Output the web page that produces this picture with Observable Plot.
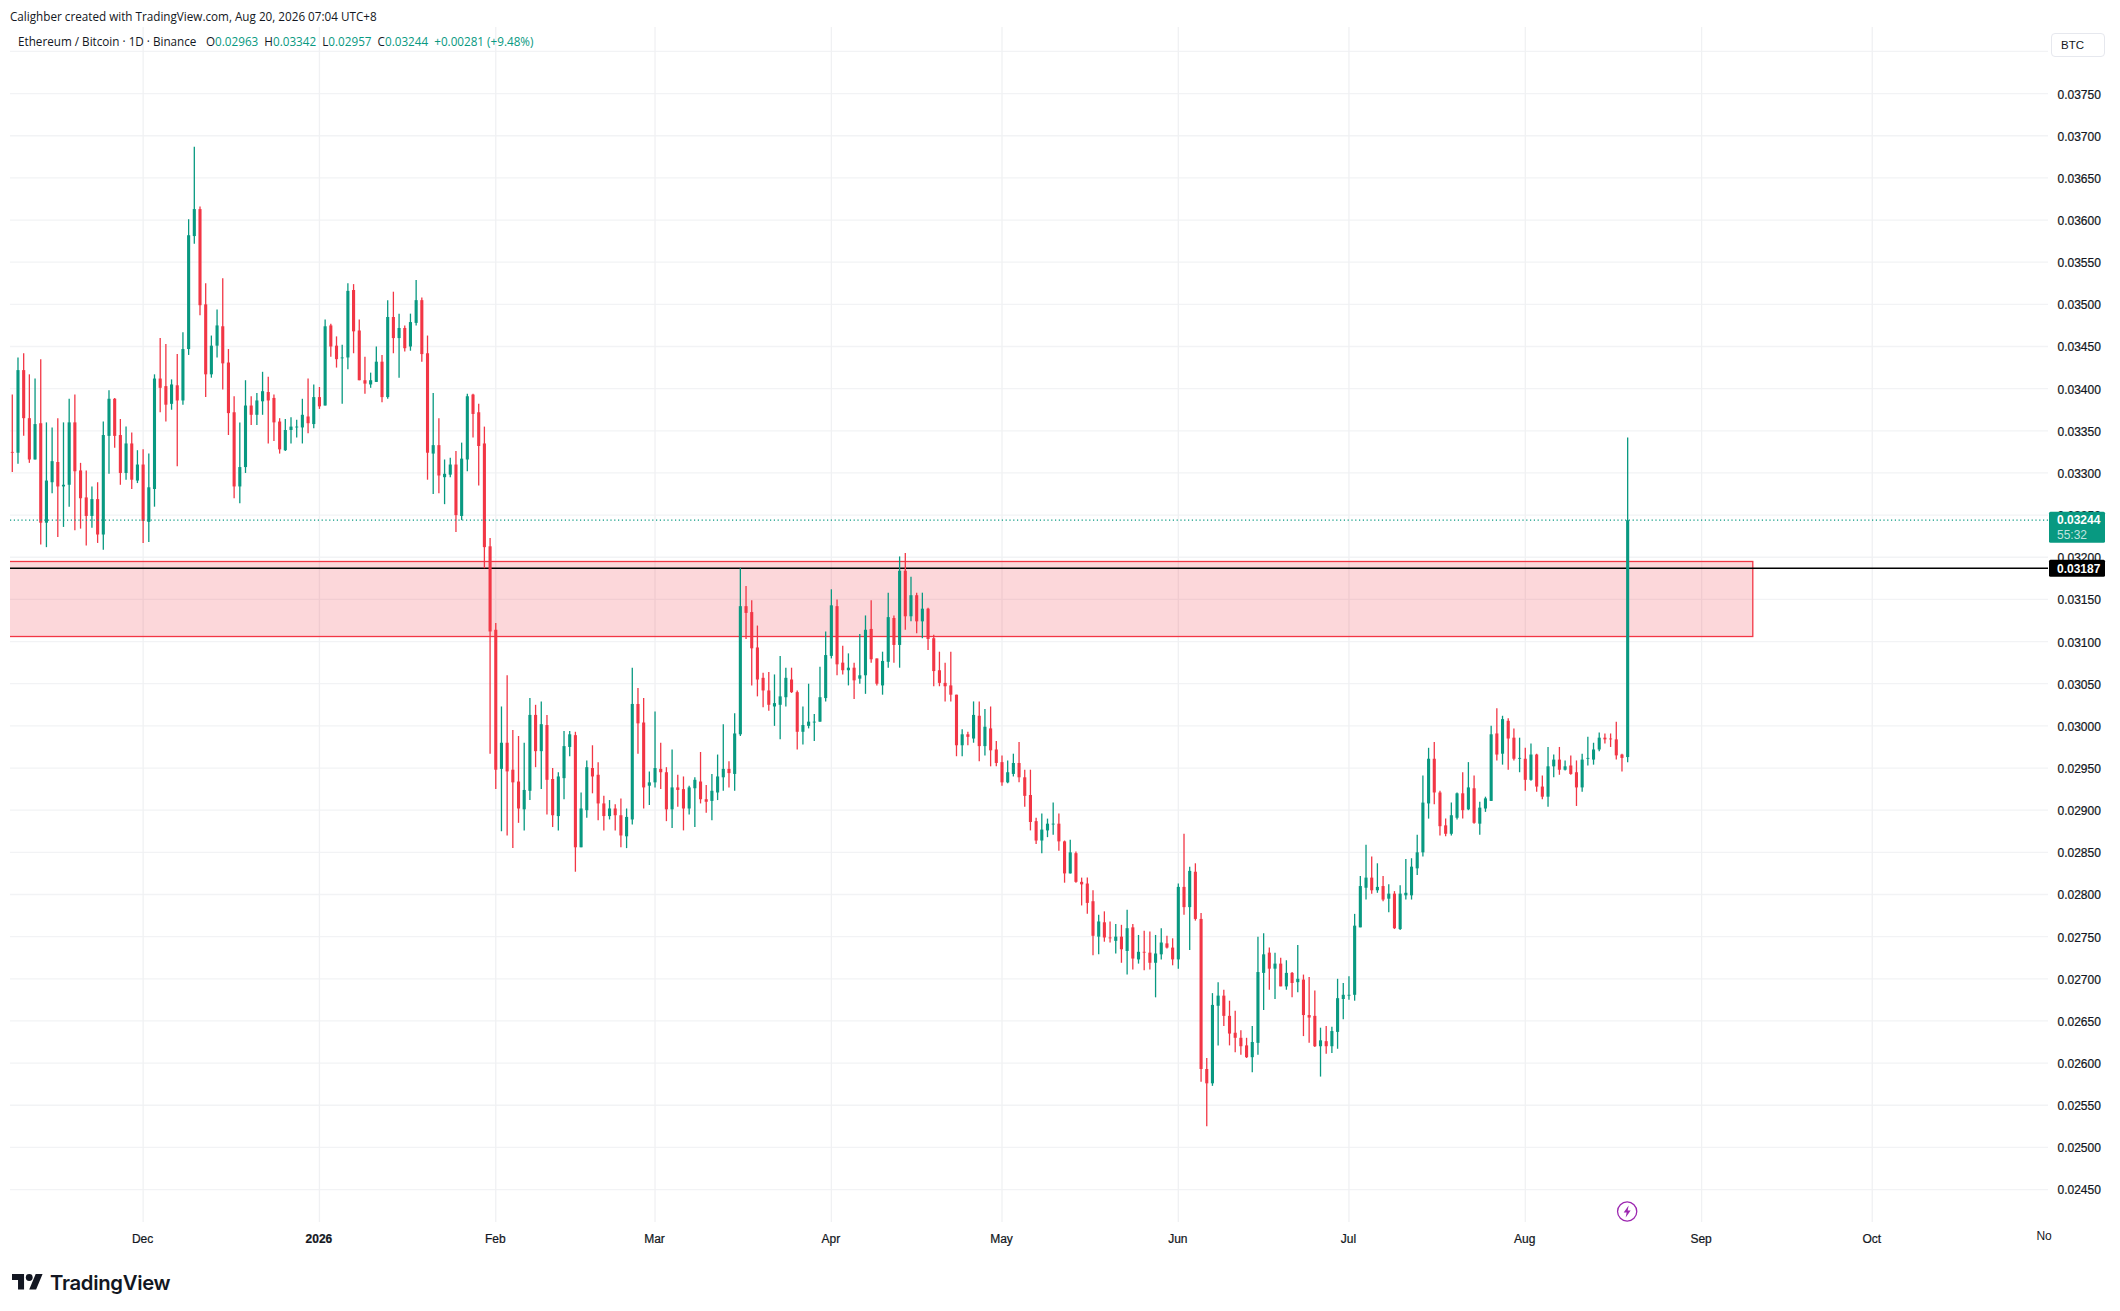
<!DOCTYPE html>
<html>
<head>
<meta charset="utf-8">
<script src="https://cdn.jsdelivr.net/npm/d3@7"></script>
<script src="https://cdn.jsdelivr.net/npm/@observablehq/plot@0.6"></script>
<style>
html,body{margin:0;padding:0;background:#fff;width:2120px;height:1311px;overflow:hidden;position:relative;font-family:"Liberation Sans",sans-serif;color:#131722}
svg.chart{position:absolute;left:0;top:0;display:block}
svg.chart [aria-label$="tick label"]{stroke:#131722;stroke-width:.22px}
.abs{position:absolute;white-space:pre}
#frame{position:absolute;left:9px;top:26px;width:2100px;height:1224px;border:1.6px solid #f0f1f4;box-sizing:border-box}
#credit{left:10px;top:7.5px;font:11.7px "Open Sans",sans-serif}
#legend{left:18px;top:33px;font:11.7px "Open Sans",sans-serif}
#legend b{font-weight:400;color:#089981}
#legend i{font-style:normal;margin-left:3.5px}
#btc{left:2051px;top:33px;width:54px;height:24px;border:1px solid #e6e8ee;border-radius:4px;box-sizing:border-box;padding-left:9px;line-height:22px;font-size:11.5px}
#brand{left:50px;top:1270px;font:600 20.3px Inter,sans-serif;letter-spacing:-.3px;color:#131722}
#logo{position:absolute;left:12px;top:1274px}
</style>
</head>
<body>
<div id="frame"></div>
<script>
// Prices in units of 0.00001 BTC, one entry per daily candle, first candle 2025-11-08
const firstDay = "2025-11-08";
const opens = [
3325,3324,3422,3365,3316,3359,3241,3289,3313,3284,
3286,3360,3303,3271,3249,3269,3227,3344,3388,3345,
3300,3335,3291,3310,3242,3281,3412,3403,3382,3404,
3386,3447,3581,3613,3500,3417,3451,3474,3431,3372,
3284,3307,3380,3369,3385,3396,3389,3361,3327,3351,
3354,3354,3367,3358,3390,3380,3475,3451,3436,3437,
3517,3469,3410,3405,3408,3432,3390,3485,3460,3472,
3450,3478,3505,3442,3323,3333,3295,3298,3310,3249,
3316,3393,3372,3335,3213,3114,2949,2980,2948,2934,
2901,2923,3013,2970,3001,2937,2893,2938,2975,2989,
2856,2900,2950,2942,2908,2893,2902,2894,2869,2889,
3026,3004,2929,2933,2949,2945,2901,2927,2925,2902,
2926,2934,2913,2911,2921,2939,2949,2943,2990,3142,
3135,3093,3057,3042,3023,3025,3034,3055,3040,2993,
3000,3004,3005,3033,3083,3142,3075,3066,3069,3056,
3060,3115,3080,3048,3076,3128,3096,3184,3130,3155,
3124,3139,3104,3066,3051,3048,3037,2977,2990,2985,
3012,2976,2997,2972,2957,2933,2943,2956,2939,2918,
2887,2864,2876,2883,2884,2863,2825,2849,2815,2813,
2792,2750,2767,2749,2745,2750,2733,2761,2723,2732,
2731,2719,2729,2742,2737,2723,2809,2785,2827,2771,
2593,2576,2668,2680,2656,2636,2630,2621,2607,2624,
2707,2731,2712,2718,2691,2707,2696,2699,2657,2656,
2620,2626,2620,2637,2676,2680,2681,2761,2808,2820,
2805,2810,2795,2801,2759,2799,2799,2831,2850,2908,
2961,2921,2882,2872,2891,2920,2901,2926,2884,2902,
2911,2991,2967,3006,2986,2961,2961,2936,2966,2928,
2916,2952,2960,2948,2953,2945,2927,2961,2960,2972,
2986,2985,2984,2966,2963];
const closes = [
3324,3422,3365,3316,3358,3241,3291,3314,3284,3286,
3360,3302,3270,3249,3269,3227,3345,3388,3344,3300,
3335,3292,3310,3243,3283,3412,3401,3381,3405,3386,
3447,3582,3613,3499,3417,3451,3475,3430,3371,3284,
3307,3380,3369,3386,3397,3386,3360,3328,3351,3355,
3355,3369,3359,3390,3379,3474,3450,3435,3437,3516,
3468,3410,3406,3410,3432,3390,3485,3460,3472,3448,
3479,3505,3441,3324,3333,3297,3299,3310,3250,3317,
3391,3370,3332,3212,3112,2948,2980,2946,2933,2902,
2924,3013,2970,3002,2936,2894,2940,2976,2990,2856,
2902,2951,2940,2908,2893,2902,2894,2870,2892,3026,
3003,2927,2933,2950,2945,2901,2927,2924,2902,2927,
2936,2913,2910,2923,2940,2949,2944,2991,3142,3134,
3092,3055,3042,3025,3027,3035,3057,3040,2993,3001,
3005,3005,3034,3084,3143,3073,3066,3069,3054,3060,
3114,3079,3050,3077,3129,3096,3184,3130,3155,3124,
3139,3103,3065,3051,3047,3037,2977,2990,2987,3013,
2976,2999,2971,2956,2933,2945,2956,2939,2917,2886,
2864,2877,2884,2884,2863,2825,2850,2815,2812,2790,
2751,2768,2749,2748,2750,2735,2760,2724,2732,2731,
2719,2730,2743,2737,2723,2809,2785,2828,2771,2593,
2576,2669,2680,2656,2635,2630,2620,2607,2625,2708,
2729,2712,2718,2691,2707,2695,2700,2657,2654,2620,
2627,2620,2638,2677,2681,2681,2763,2810,2820,2805,
2809,2794,2801,2760,2801,2802,2833,2850,2909,2961,
2921,2881,2872,2894,2920,2900,2927,2885,2903,2914,
2990,2966,3008,2985,2961,2962,2936,2966,2928,2916,
2952,2960,2948,2952,2943,2927,2960,2962,2972,2986,
2984,2984,2965,2962,3244];
const highs = [
3393,3437,3442,3417,3412,3435,3360,3354,3365,3360,
3388,3393,3312,3303,3284,3289,3361,3398,3389,3364,
3355,3348,3327,3328,3323,3417,3460,3453,3411,3441,
3467,3601,3687,3616,3525,3463,3494,3531,3447,3391,
3360,3410,3391,3395,3420,3414,3393,3365,3364,3366,
3363,3388,3412,3405,3402,3482,3477,3462,3452,3525,
3524,3482,3438,3419,3450,3440,3505,3515,3489,3475,
3489,3529,3508,3463,3395,3365,3316,3318,3326,3336,
3394,3394,3382,3355,3223,3122,3023,3060,2995,2988,
2980,3033,3025,3029,3013,2950,2945,2994,2994,2993,
2921,2959,2977,2957,2917,2912,2907,2914,2902,3069,
3045,3033,2946,3017,2980,2951,2972,2942,2940,2929,
2939,2969,2930,2943,2966,3002,2958,3015,3187,3166,
3149,3119,3063,3064,3061,3083,3069,3069,3042,3023,
3050,3014,3070,3112,3162,3150,3095,3086,3075,3109,
3131,3149,3080,3088,3158,3131,3201,3205,3177,3158,
3158,3140,3108,3088,3075,3088,3037,2996,2993,3029,
3029,3020,3023,2982,2965,2959,2967,2981,2948,2948,
2891,2896,2890,2909,2896,2864,2865,2851,2820,2820,
2805,2776,2780,2768,2765,2764,2782,2765,2752,2757,
2756,2752,2760,2751,2748,2813,2872,2833,2837,2778,
2606,2683,2696,2687,2674,2662,2639,2630,2644,2750,
2754,2737,2731,2725,2722,2708,2740,2705,2702,2686,
2642,2644,2643,2700,2695,2703,2777,2822,2859,2845,
2837,2822,2812,2804,2811,2842,2843,2871,2941,2974,
2981,2923,2890,2909,2921,2945,2957,2941,2910,2916,
3000,3021,3012,3009,2997,2986,2974,2979,2967,2941,
2975,2966,2975,2959,2965,2959,2967,2987,2980,2992,
2991,2991,3005,2967,3342];
const lows = [
3301,3311,3344,3312,3316,3215,3212,3276,3224,3236,
3260,3232,3234,3214,3235,3217,3209,3299,3330,3286,
3292,3281,3288,3217,3218,3260,3372,3361,3375,3308,
3381,3440,3572,3487,3390,3413,3437,3399,3345,3270,
3264,3300,3357,3357,3369,3335,3338,3323,3326,3335,
3342,3335,3347,3353,3376,3380,3438,3425,3382,3423,
3442,3410,3394,3401,3408,3384,3388,3442,3413,3444,
3445,3475,3432,3292,3275,3276,3263,3295,3230,3244,
3302,3342,3285,3187,2967,2925,2875,2870,2855,2885,
2876,2912,2951,2925,2895,2880,2876,2913,2964,2827,
2856,2891,2920,2888,2876,2889,2876,2856,2855,2883,
2967,2902,2906,2927,2925,2887,2879,2904,2876,2895,
2880,2908,2897,2888,2912,2923,2927,2923,2988,3103,
3048,3035,3022,3018,3000,2984,3023,3039,2972,2978,
2997,2982,3005,3029,3080,3060,3061,3048,3032,3050,
3038,3075,3048,3037,3069,3075,3069,3114,3124,3110,
3104,3090,3047,3047,3029,3029,2964,2964,2977,2980,
2958,2965,2952,2952,2929,2932,2940,2933,2904,2876,
2860,2849,2868,2871,2852,2814,2825,2814,2787,2777,
2728,2729,2744,2743,2730,2719,2705,2711,2718,2710,
2711,2678,2723,2736,2716,2712,2776,2734,2769,2578,
2525,2573,2621,2644,2621,2613,2610,2606,2589,2610,
2663,2687,2676,2691,2687,2678,2684,2632,2624,2619,
2584,2611,2612,2617,2652,2675,2674,2761,2794,2801,
2802,2792,2779,2759,2758,2794,2794,2823,2845,2890,
2907,2870,2869,2870,2889,2890,2900,2884,2871,2898,
2911,2959,2954,2948,2959,2945,2923,2935,2922,2913,
2904,2939,2942,2947,2942,2905,2922,2953,2954,2970,
2979,2975,2960,2946,2957];

const priceTicks = [0.0245,0.025,0.0255,0.026,0.0265,0.027,0.0275,0.028,0.0285,0.029,0.0295,0.03,0.0305,0.031,0.0315,0.032,0.0325,0.033,0.0335,0.034,0.0345,0.035,0.0355,0.036,0.0365,0.037,0.0375];
const gridPrices = [...priceTicks, 0.038];
const monthDates = ["2025-12-01","2026-01-01","2026-02-01","2026-03-01","2026-04-01","2026-05-01","2026-06-01","2026-07-01","2026-08-01","2026-09-01","2026-10-01"];
const monthLabels = ["Dec","2026","Feb","Mar","Apr","May","Jun","Jul","Aug","Sep","Oct"];
const lastPrice = 0.03244, markPrice = 0.03187;
const zoneTop = 0.03195, zoneBottom = 0.03106, zoneStart = "2025-11-01", zoneEnd = "2026-09-10";
const signalPrice = 0.02424;
const GREEN = "#089981", RED = "#f23645";

const day = d3.utcParse("%Y-%m-%d");
const t0 = day(firstDay);
const candles = opens.map((o,i)=>({date:d3.utcDay.offset(t0,i),o:o/1e5,h:highs[i]/1e5,l:lows[i]/1e5,c:closes[i]/1e5,color:closes[i]>=o?GREEN:RED}));
const xStart = new Date(+t0 - 0.404*864e5), xEnd = new Date(+t0 + 357.9*864e5);
const months = monthDates.map(day);
const labelOf = new Map(months.map((m,i)=>[+m,monthLabels[i]]));
const tickFmt = d=>labelOf.get(+d);
const regular = months.filter(m=>labelOf.get(+m)!=="2026");
const year = months.filter(m=>labelOf.get(+m)==="2026");
const nov = day("2026-11-01");
const F = '"Liberation Sans",sans-serif';

const chart = Plot.plot({
  width:2120,height:1311,marginLeft:10,marginRight:72,marginTop:27,marginBottom:89,
  x:{type:"utc",domain:[xStart,xEnd]},
  y:{type:"linear",domain:[0.024115,0.03829]},
  style:{background:"#fff",fontFamily:F,overflow:"visible"},
  className:"chart",
  marks:[
    Plot.ruleY(gridPrices,{stroke:"#f2f3f5",strokeWidth:1.3,dy:-0.5}),
    Plot.ruleX(months,{stroke:"#f0f1f3",strokeWidth:1.3,dx:-0.5}),
    Plot.rect([{}],{x1:()=>day(zoneStart),x2:()=>day(zoneEnd),y1:()=>zoneBottom,y2:()=>zoneTop,fill:RED,fillOpacity:0.2,stroke:RED,strokeWidth:1.3,clip:"frame"}),
    Plot.ruleY([markPrice],{stroke:"#000",strokeWidth:1.4,dy:-0.5}),
    Plot.ruleX(candles,{x:"date",y1:"l",y2:"h",stroke:"color",strokeWidth:1.3,dx:-0.5}),
    Plot.ruleX(candles,{x:"date",y1:"o",y2:"c",stroke:"color",strokeWidth:3.1,dx:-0.5}),
    Plot.ruleY([lastPrice],{stroke:GREEN,strokeWidth:1.3,strokeDasharray:"1.2,2.6",dy:-0.5}),
    Plot.axisY({anchor:"right",ticks:priceTicks,tickSize:0,tickPadding:9,label:null,tickFormat:d=>d.toFixed(5),fontSize:12,fill:"#131722",dy:0.6}),
    Plot.axisX({anchor:"bottom",ticks:regular,tickSize:0,tickPadding:11.5,label:null,tickFormat:tickFmt,fontSize:12,fill:"#131722",dx:-1}),
    Plot.axisX({anchor:"bottom",ticks:year,tickSize:0,tickPadding:11.5,label:null,tickFormat:tickFmt,fontSize:12,fontWeight:700,fill:"#131722",dx:-1}),
    Plot.text([nov],{x:d=>d,frameAnchor:"bottom",dy:17.5,dx:-5,text:()=>"No",fontSize:12,fill:"#131722"})
  ]
});
document.body.appendChild(chart);

// current-price tags and the signal marker, placed through the chart's own scales
const sy = chart.scale("y"), sx = chart.scale("x");
const svg = d3.select(chart);
const tagX = 2049, tagW = 56;
const g = svg.append("g").attr("font-family",F).attr("text-anchor","start");
const yLast = sy.apply(lastPrice), yMark = sy.apply(markPrice);
g.append("rect").attr("x",tagX).attr("y",yLast-8.5).attr("width",tagW).attr("height",31).attr("rx",1.5).attr("fill",GREEN);
g.append("text").attr("x",2057).attr("y",yLast+4.3).attr("font-size",12).attr("font-weight",600).attr("fill","#fff").text(lastPrice.toFixed(5));
g.append("text").attr("x",2057).attr("y",yLast+18.5).attr("font-size",12).attr("fill","#fff").attr("fill-opacity",.75).text("55:32");
g.append("rect").attr("x",tagX).attr("y",yMark-8.5).attr("width",tagW).attr("height",17).attr("rx",1.5).attr("fill","#000");
g.append("text").attr("x",2057).attr("y",yMark+4.3).attr("font-size",12).attr("font-weight",600).attr("fill","#fff").text(markPrice.toFixed(5));
const sigX = sx.apply(candles[candles.length-1].date)-0.5, sigY = sy.apply(signalPrice);
const sig = g.append("g").attr("transform",`translate(${sigX},${sigY})`);
sig.append("circle").attr("r",9.6).attr("fill","#fff").attr("stroke","#9c27b0").attr("stroke-width",1.3);
sig.append("path").attr("d","M1.5,-6 L-3.5,1 L-0.5,1 L-1.5,6 L3.5,-1 L0.5,-1 Z").attr("fill","#9c27b0");

function addText(id,html){const d=document.createElement("div");d.id=id;d.className="abs";d.innerHTML=html;document.body.appendChild(d);return d;}
addText("credit","Calighber created with TradingView.com, Aug 20, 2026 07:04 UTC+8");
addText("legend","Ethereum / Bitcoin · 1D · Binance  <i>O</i><b>0.02963</b>  H<b>0.03342</b>  L<b>0.02957</b>  C<b>0.03244</b>  <b>+0.00281 (+9.48%)</b>");
addText("btc","BTC");
addText("brand","TradingView");
const logo=document.createElementNS("http://www.w3.org/2000/svg","svg");
logo.setAttribute("id","logo");logo.setAttribute("width","31");logo.setAttribute("height","15.5");logo.setAttribute("viewBox","0 4 36 18");logo.setAttribute("fill","#131722");
logo.innerHTML='<path d="M14 22H7V11H0V4h14v18zM28 22h-8l7.5-18h8L28 22z"/><circle cx="20" cy="8" r="4"/>';
document.body.appendChild(logo);
</script>
</body>
</html>
